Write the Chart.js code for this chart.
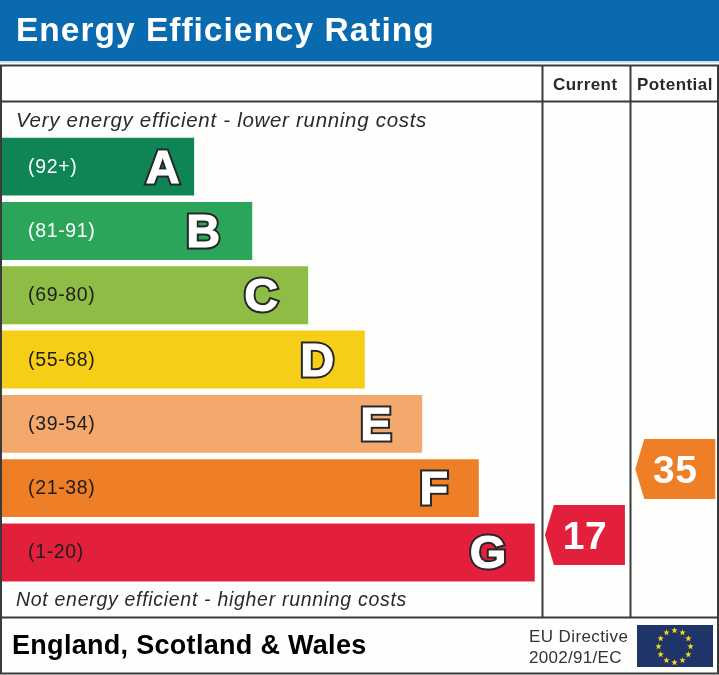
<!DOCTYPE html>
<html><head><meta charset="utf-8">
<style>html,body{margin:0;padding:0;background:#fff}canvas{display:block}</style>
<script src="https://cdn.jsdelivr.net/npm/chart.js@4/dist/chart.umd.min.js"></script>
</head><body>
<div style="width:719px;height:675px"><canvas id="c" width="719" height="675"></canvas></div>
<script>
const bandLetters=['A','B','C','D','E','F','G'];
const bandRanges=['(92+)','(81-91)','(69-80)','(55-68)','(39-54)','(21-38)','(1-20)'];
const bandLengths=[26.8,34.9,42.7,50.6,58.6,66.5,74.3];
const bandColors=['#0F8454','#2BA55A','#8FBC44','#F7CE17','#F3A96B','#EE7F26','#E3203B'];
const ratingColumns=['Current','Potential'];
const ratingValues=[17,35];
const ratingColors=['#E3203B','#EE7F26'];
const titleText='Energy Efficiency Rating';
const topNote='Very energy efficient - lower running costs';
const bottomNote='Not energy efficient - higher running costs';
const regionText='England, Scotland & Wales';
const directiveLines=['EU Directive','2002/91/EC'];

const columnCentre={Current:81.3,Potential:93.9};
const letterGap=[14.5,32,30,30.5,30.5,30.5,28.5];
const SANS='"Liberation Sans",Arial,sans-serif';
function text(ctx,s,x,y,font,color,spacing,align){
  ctx.save();ctx.font=font;ctx.fillStyle=color;ctx.letterSpacing=(spacing||0)+'px';
  ctx.textAlign=align||'left';ctx.textBaseline='alphabetic';ctx.fillText(s,x,y);ctx.restore();
}
const frame={
  id:'frame',
  beforeDraw(chart){
    const ctx=chart.ctx;
    ctx.save();
    ctx.fillStyle='#FEFEFD';ctx.fillRect(0,0,719,675);
    ctx.fillStyle='#0A6AB0';ctx.fillRect(0,0,719,61);
    ctx.fillStyle='#CFE0EE';ctx.fillRect(0,61,719,2);
    ctx.strokeStyle='#3A3A3C';ctx.lineWidth=2;
    ctx.strokeRect(1,65.5,717,608);
    ctx.beginPath();
    ctx.moveTo(1,101.5);ctx.lineTo(718,101.5);
    ctx.moveTo(1,617.5);ctx.lineTo(718,617.5);
    ctx.moveTo(542.5,65);ctx.lineTo(542.5,617);
    ctx.moveTo(630.5,65);ctx.lineTo(630.5,617);
    ctx.stroke();
    ctx.restore();
    text(ctx,titleText,16,41,'bold 33.5px '+SANS,'#FFFFFF',1);
    text(ctx,ratingColumns[0],553,90,'bold 17px '+SANS,'#2A2A2C',0.45);
    text(ctx,ratingColumns[1],637,90,'bold 17px '+SANS,'#2A2A2C',0.45);
    text(ctx,topNote,16,127,'italic 20.5px '+SANS,'#2A2A2C',0.7);
    text(ctx,bottomNote,16,606,'italic 19.5px '+SANS,'#2A2A2C',0.7);
    text(ctx,regionText,12,654,'bold 27px '+SANS,'#000000',0.3);
    text(ctx,directiveLines[0],529,642,'17px '+SANS,'#333335',0.4);
    text(ctx,directiveLines[1],529,663,'17px '+SANS,'#333335',0.3);
    ctx.save();
    ctx.fillStyle='#1F3569';ctx.fillRect(637,625,76,42);
    ctx.fillStyle='#F7D417';
    for(let i=0;i<12;i++){
      const a=i*Math.PI/6,cx=674.5+16*Math.sin(a),cy=646.5-16*Math.cos(a);
      ctx.beginPath();
      for(let k=0;k<10;k++){
        const r=k%2?1.4:3.3,b=k*Math.PI/5;
        ctx.lineTo(cx+r*Math.sin(b),cy-r*Math.cos(b));
      }
      ctx.closePath();ctx.fill();
    }
    ctx.restore();
  },
  afterDatasetsDraw(chart){
    const ctx=chart.ctx;
    chart.getDatasetMeta(0).data.forEach((bar,i)=>{
      text(ctx,bandRanges[i],28,bar.y+6,'19.5px '+SANS,i===0||i===1?'#FFFFFF':'#1E1E22',0.65);
      ctx.save();
      ctx.font='bold 47px '+SANS;ctx.textAlign='right';ctx.textBaseline='alphabetic';
      ctx.lineJoin='miter';ctx.miterLimit=3;
      const rx=bar.x-letterGap[i], by=bar.y+16;
      ctx.lineWidth=5;ctx.strokeStyle='#262628';ctx.strokeText(bandLetters[i],rx,by);
      ctx.lineWidth=1;ctx.strokeStyle='#FFFFFF';ctx.fillStyle='#FFFFFF';
      ctx.strokeText(bandLetters[i],rx,by);ctx.fillText(bandLetters[i],rx,by);
      ctx.restore();
    });
    chart.getDatasetMeta(1).data.forEach((p,i)=>{
      const x=p.x,y=p.y;
      ctx.save();ctx.fillStyle=ratingColors[i];
      ctx.beginPath();
      ctx.moveTo(x+40,y-30);ctx.lineTo(x+40,y+30);ctx.lineTo(x-31,y+30);
      ctx.lineTo(x-40,y);ctx.lineTo(x-31,y-30);ctx.closePath();ctx.fill();
      ctx.restore();
      text(ctx,String(ratingValues[i]),x,y+14,'bold 39px '+SANS,'#FFFFFF',0.5,'center');
    });
  }
};
new Chart(document.getElementById('c'),{
  type:'bar',
  data:{
    labels:bandLetters,
    datasets:[
      {type:'bar',indexAxis:'y',data:bandLengths,backgroundColor:bandColors,borderWidth:0,
       xAxisID:'x',yAxisID:'y',categoryPercentage:0.9,barPercentage:1},
      {type:'scatter',data:ratingColumns.map((c,i)=>({x:columnCentre[c],y:ratingValues[i]})),
       xAxisID:'x',yAxisID:'rating',pointRadius:0,showLine:false}
    ]
  },
  options:{
    responsive:false,animation:false,devicePixelRatio:1,
    layout:{padding:{left:2,right:0,top:134.5,bottom:90.4}},
    plugins:{legend:{display:false},tooltip:{enabled:false},title:{display:false}},
    scales:{
      x:{type:'linear',axis:'x',min:0,max:100,offset:false,display:false},
      y:{type:'category',axis:'y',offset:true,display:false},
      rating:{type:'linear',axis:'y',min:3.5,max:126.2,offset:false,display:false}
    }
  },
  plugins:[frame]
});
</script>
</body></html>
